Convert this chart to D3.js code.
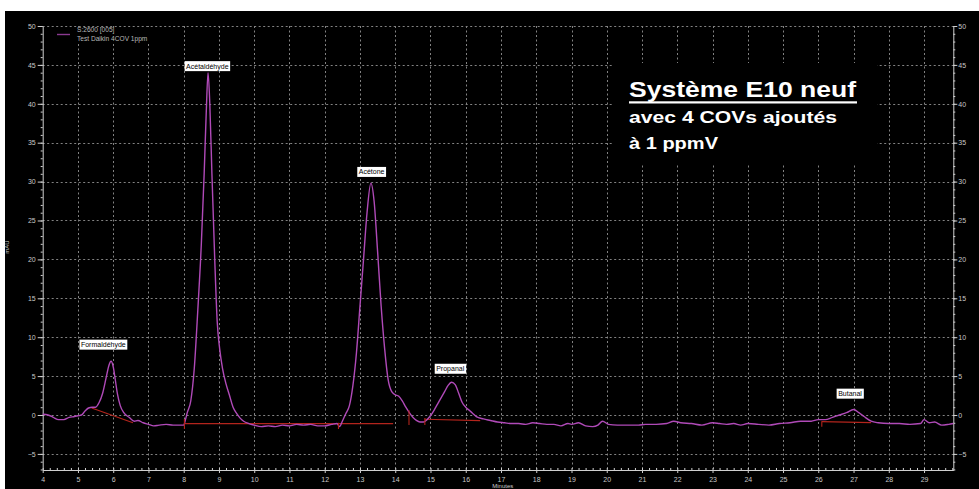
<!DOCTYPE html>
<html><head><meta charset="utf-8">
<script src="https://cdn.jsdelivr.net/npm/d3@7"></script>
<style>html,body{margin:0;padding:0;background:#fff;} svg{display:block}</style>
</head><body>
<svg id="chart" width="979" height="489"></svg>
<script>
// Chromatogram trace: retention time (minutes) and absorbance (mAU)
const traceTime = [
  4.0, 4.15, 4.3, 4.45, 4.6, 4.75, 4.9, 5.0, 5.1, 5.2, 5.3, 5.4, 5.5, 5.6, 5.7, 5.8, 5.88, 5.94, 6.0, 6.06,
  6.12, 6.2, 6.3, 6.45, 6.6, 6.7, 6.85, 7.0, 7.15, 7.3, 7.5, 7.7, 7.9, 8.0, 8.05, 8.1, 8.2, 8.3, 8.4, 8.5,
  8.58, 8.64, 8.69, 8.74, 8.8, 8.88, 8.95, 9.02, 9.1, 9.2, 9.3, 9.4, 9.5, 9.6, 9.7, 9.85, 10.0, 10.2, 10.4, 10.6,
  10.8, 11.0, 11.2, 11.4, 11.6, 11.8, 12.0, 12.2, 12.35, 12.42, 12.5, 12.6, 12.7, 12.8, 12.9, 13.0, 13.1, 13.2, 13.31, 13.4,
  13.5, 13.6, 13.7, 13.8, 13.9, 14.0, 14.1, 14.2, 14.3, 14.4, 14.5, 14.6, 14.7, 14.8, 14.9, 15.0, 15.1, 15.2, 15.3, 15.4,
  15.5, 15.6, 15.7, 15.8, 15.9, 16.0, 16.1, 16.2, 16.3, 16.5, 16.7, 16.9, 17.1, 17.3, 17.5, 17.7, 17.9, 18.1, 18.3, 18.5,
  18.7, 18.9, 19.0, 19.2, 19.4, 19.6, 19.75, 19.88, 20.05, 20.3, 20.6, 20.9, 21.1, 21.4, 21.7, 21.9, 22.1, 22.4, 22.7, 23.0,
  23.2, 23.4, 23.6, 23.8, 24.0, 24.3, 24.6, 24.9, 25.2, 25.5, 25.8, 26.0, 26.2, 26.4, 26.6, 26.8, 27.0, 27.15, 27.3, 27.5,
  27.7, 28.0, 28.3, 28.6, 28.9, 29.0, 29.15, 29.3, 29.5, 29.7, 29.83
];
const traceMAU = [
  0.1, 0.0, -0.3, -0.6, -0.6, -0.3, -0.2, -0.1, 0.0, 0.5, 0.9, 1.0, 1.0, 1.6, 2.8, 4.8, 6.4, 6.9, 6.2, 4.5,
  2.7, 1.2, 0.3, -0.3, -0.8, -0.7, -1.0, -1.2, -1.4, -1.3, -1.2, -1.3, -1.3, -1.3, -0.6, 0.3, 1.8, 6.0, 13.5, 22.0,
  31.0, 39.0, 44.0, 40.0, 31.0, 20.0, 12.0, 8.5, 6.0, 4.0, 2.5, 1.0, 0.2, -0.4, -0.8, -1.1, -1.3, -1.5, -1.4, -1.5,
  -1.3, -1.4, -1.2, -1.3, -1.2, -1.4, -1.4, -1.2, -1.1, -1.5, -0.8, 0.2, 1.2, 3.8, 8.0, 14.0, 20.0, 26.0, 29.8, 27.5,
  21.0, 14.0, 8.5, 4.5, 3.0, 2.6, 2.4, 1.8, 1.0, 0.3, -0.3, -0.7, -0.9, -0.9, -0.6, -0.1, 0.6, 1.4, 2.2, 3.0,
  3.8, 4.2, 3.9, 2.8, 1.6, 1.0, 0.6, 0.2, -0.2, -0.5, -0.7, -0.9, -1.0, -1.1, -1.1, -1.2, -1.0, -1.1, -1.2, -1.2,
  -1.4, -1.1, -1.2, -1.0, -1.4, -1.5, -1.3, -0.8, -1.2, -1.3, -1.3, -1.3, -1.2, -1.2, -1.1, -0.8, -1.0, -1.1, -1.3, -1.0,
  -1.1, -1.2, -1.1, -1.3, -1.1, -1.2, -1.3, -1.1, -1.0, -0.8, -0.8, -0.6, -0.6, -0.3, 0.0, 0.3, 0.7, 0.3, -0.2, -0.8,
  -1.0, -1.1, -1.1, -1.2, -1.1, -0.6, -1.0, -0.9, -1.3, -1.2, -1.1
];

// Identified peaks and where their name tags sit (time, mAU)
const peakNames = ["Formaldéhyde", "Acétaldéhyde", "Acétone", "Propanal", "Butanal"];
const peakTimes = [5.94, 8.69, 13.31, 15.64, 27.0];
const peakHeights = [6.9, 44.0, 29.8, 4.2, 0.7];
const tagTimes = [5.72, 8.67, 13.33, 15.56, 26.9];
const tagLevels = [8.4, 44.2, 30.6, 5.3, 2.1];

// Integration baselines drawn under each peak
const baseStartTime = [5.39, 8.02, 12.39, 14.84, 26.1];
const baseStartMAU = [0.9, -1.1, -1.1, -0.55, -0.86];
const baseEndTime = [6.56, 12.39, 13.94, 16.41, 27.5];
const baseEndMAU = [-1.0, -1.1, -1.1, -0.73, -0.99];

// Integration event markers
const eventTimes = [8.02, 12.39, 14.39, 14.84, 26.1];
const eventTop = [-0.5, -1.0, 0.6, -0.4, -0.8];
const eventBottom = [-1.8, -1.8, -1.3, -1.3, -1.5];

// Axis ticks
const xTickValues = [4, 5, 6, 7, 8, 9, 10, 11, 12, 13, 14, 15, 16, 17, 18, 19, 20, 21, 22, 23, 24, 25, 26, 27, 28, 29];
const yTickValues = [-5, 0, 5, 10, 15, 20, 25, 30, 35, 40, 45, 50];

const legendLines = ["S:2600 [005]", "Test Daikin 4COV 1ppm"];
const titleLines = ["Système E10 neuf", "avec 4 COVs ajoutés", "à 1 ppmV"];

const svg = d3.select("#chart");
const W = 979, H = 489;
const plot = {left: 42.7, right: 953.3, top: 26, bottom: 470};

const x = d3.scaleLinear().domain([4, 29.83]).range([plot.left, plot.right]);
const y = d3.scaleLinear().domain([-7.07, 50]).range([plot.bottom, plot.top]);

const axisFont = "'Liberation Sans', Arial, sans-serif";
const curveColor = "#b04ab8";
const baseColor = "#b3241c";

// dark canvas
svg.append("rect").attr("x", 5).attr("y", 11).attr("width", W - 5).attr("height", H - 11).attr("fill", "#000");

// dotted grid
const grid = svg.append("g").attr("stroke", "#828282").attr("stroke-width", 1).attr("stroke-dasharray", "2,2.5");
grid.selectAll("line.v").data(xTickValues.filter(d => d > 4)).join("line")
  .attr("x1", d => Math.round(x(d)) + 0.5).attr("x2", d => Math.round(x(d)) + 0.5)
  .attr("y1", plot.top).attr("y2", plot.bottom);
grid.selectAll("line.h").data(yTickValues).join("line")
  .attr("y1", d => Math.round(y(d)) + 0.5).attr("y2", d => Math.round(y(d)) + 0.5)
  .attr("x1", plot.left).attr("x2", plot.right);

// axes
const axisColor = "#d0d0d0";
function styleAxis(g) {
  g.select(".domain").attr("stroke", axisColor);
  g.selectAll(".tick line").attr("stroke", axisColor);
  g.selectAll(".tick text").attr("fill", "#c8c8c8").attr("font-size", 7).attr("font-family", axisFont);
}
const xAxis = svg.append("g").attr("transform", `translate(0,${plot.bottom})`)
  .call(d3.axisBottom(x).tickValues(xTickValues).tickSize(3).tickPadding(4).tickSizeOuter(0).tickFormat(d3.format("d")));
styleAxis(xAxis);
const xMinor = svg.append("g").attr("transform", `translate(0,${plot.bottom})`)
  .call(d3.axisTop(x).tickValues(d3.range(40, 299, 2).map(v => v / 10)).tickSize(2).tickFormat(""));
xMinor.select(".domain").remove();
xMinor.selectAll(".tick line").attr("stroke", axisColor);

const yLeft = svg.append("g").attr("transform", `translate(${plot.left},0)`)
  .call(d3.axisLeft(y).tickValues(yTickValues).tickSize(5).tickPadding(2).tickSizeOuter(0));
styleAxis(yLeft);
const yRight = svg.append("g").attr("transform", `translate(${plot.right},0)`)
  .call(d3.axisRight(y).tickValues(yTickValues).tickSize(4).tickPadding(1).tickSizeOuter(0));
styleAxis(yRight);
[plot.left, plot.right].forEach((px, i) => {
  const m = svg.append("g").attr("transform", `translate(${px},0)`)
    .call((i ? d3.axisRight(y) : d3.axisLeft(y)).tickValues(d3.range(-7, 51)).tickSize(2).tickFormat(""));
  m.select(".domain").remove();
  m.selectAll(".tick line").attr("stroke", axisColor);
});

// axis titles
svg.append("text").attr("transform", "translate(9,247) rotate(-90)").attr("text-anchor", "middle")
  .attr("font-size", 6).attr("font-family", axisFont).attr("fill", "#c8c8c8").text("mAU");
svg.append("text").attr("x", x(17.05)).attr("y", 487.5).attr("text-anchor", "middle")
  .attr("font-size", 6).attr("font-family", axisFont).attr("fill", "#c8c8c8").text("Minutes");

// legend
const legend = svg.append("g");
legend.append("rect").attr("x", 47).attr("y", 27).attr("width", 106).attr("height", 17).attr("fill", "#000");
legend.append("line").attr("x1", 57).attr("x2", 70).attr("y1", 34.5).attr("y2", 34.5)
  .attr("stroke", "#8a3a90").attr("stroke-width", 1.4);
legend.selectAll("text").data(legendLines).join("text")
  .attr("x", 77).attr("y", (d, i) => 31.5 + i * 9.5)
  .attr("font-size", 6.6).attr("font-family", axisFont).attr("fill", "#b8b8b8").text(d => d);

// title block
const title = svg.append("g");
title.append("rect").attr("x", 612).attr("y", 63).attr("width", 265).attr("height", 100).attr("fill", "#000");
const titleSizes = [22, 16.5, 16.5];
const titleBaselines = [97, 123, 149];
const titleWidths = [227, 208, 89];
title.selectAll("text").data(titleLines).join("text")
  .attr("x", 629).attr("y", (d, i) => titleBaselines[i])
  .attr("font-size", (d, i) => titleSizes[i]).attr("font-weight", "bold")
  .attr("font-family", "'Liberation Sans', Arial, sans-serif").attr("fill", "#fff")
  .attr("textLength", (d, i) => titleWidths[i]).attr("lengthAdjust", "spacingAndGlyphs")
  .text(d => d);
title.append("rect").attr("x", 629).attr("y", 101.3).attr("width", 228).attr("height", 2.2).attr("fill", "#fff");

// integration baselines
const bases = svg.append("g").attr("stroke", baseColor).attr("stroke-width", 1.2);
bases.selectAll("line.b").data(baseStartTime).join("line")
  .attr("x1", (d, i) => x(d)).attr("y1", (d, i) => y(baseStartMAU[i]))
  .attr("x2", (d, i) => x(baseEndTime[i])).attr("y2", (d, i) => y(baseEndMAU[i]));

// chromatogram
const pts = traceTime.map((t, i) => [t, traceMAU[i]]);
svg.append("path").datum(pts)
  .attr("fill", "none").attr("stroke", curveColor).attr("stroke-width", 1.4).attr("stroke-linejoin", "round")
  .attr("d", d3.line().x(d => x(d[0])).y(d => y(d[1])).curve(d3.curveMonotoneX));

// event markers
svg.append("g").attr("stroke", baseColor).attr("stroke-width", 1.1)
  .selectAll("line").data(eventTimes).join("line")
  .attr("x1", d => x(d)).attr("x2", d => x(d))
  .attr("y1", (d, i) => y(eventTop[i])).attr("y2", (d, i) => y(eventBottom[i]));

// peak name tags
const tags = svg.append("g");
peakNames.forEach((name, i) => {
  const g = tags.append("g");
  const t = g.append("text").attr("x", x(tagTimes[i])).attr("y", y(tagLevels[i]) - 2.5)
    .attr("text-anchor", "middle").attr("font-size", 7).attr("font-family", axisFont)
    .attr("fill", "#000").text(name);
  const bb = t.node().getBBox();
  g.insert("rect", "text").attr("x", bb.x - 1.5).attr("y", y(tagLevels[i]) - 10)
    .attr("width", bb.width + 3).attr("height", 10).attr("fill", "#fff");
});
</script>
</body></html>
